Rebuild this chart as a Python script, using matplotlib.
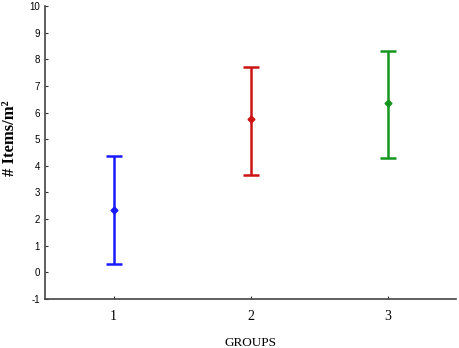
import matplotlib
matplotlib.use("Agg")
import matplotlib.pyplot as plt
import numpy as np

groups = [1, 2, 3]
means = [2.36, 5.74, 6.34]
upper = [4.35, 7.72, 8.32]
lower = [0.32, 3.66, 4.29]
colors = ["#1a1aff", "#cc1414", "#14961e"]
yticks = list(range(-1, 11))

fig = plt.figure(figsize=(4.59, 3.48), dpi=100)
ax = fig.add_axes([45/459, 49/348, 411/459, 293/348])

for g, m, u, l, c in zip(groups, means, upper, lower, colors):
    ax.errorbar([g], [m], yerr=[[m - l], [u - m]], fmt="D", color=c,
                ecolor=c, elinewidth=1.8, capsize=5.5, capthick=1.8,
                markersize=3.5)

ax.set_xlim(0.5, 3.5)
ax.set_ylim(-1, 10)
ax.set_xticks(groups)
ax.set_xticklabels([str(g) for g in groups], family="Liberation Serif", fontsize=10)
ax.set_yticks(yticks)
ax.set_yticklabels([str(t) for t in yticks], family="Liberation Sans", fontsize=7)
ax.tick_params(direction="in", length=2, width=0.8, colors="#333333")
ax.tick_params(axis="x", pad=8)
for lbl in ax.get_xticklabels() + ax.get_yticklabels():
    lbl.set_color("black")
ax.spines["top"].set_visible(False)
ax.spines["right"].set_visible(False)
ax.spines["left"].set_color("#444444")
ax.spines["bottom"].set_color("#444444")
ax.spines["left"].set_linewidth(1.2)
ax.spines["bottom"].set_linewidth(1.2)

ax.set_ylabel("# Items/m²", family="Liberation Serif", fontweight="bold", fontsize=12)
ax.yaxis.set_label_coords(-0.066, 0.55)
ax.set_xlabel("GROUPS", family="Liberation Serif", fontsize=9.5, labelpad=10)

fig.savefig("out.png", dpi=100)
